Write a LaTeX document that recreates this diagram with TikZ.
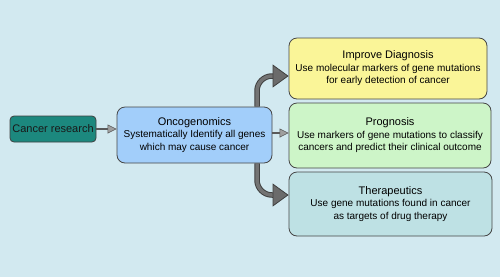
\documentclass[tikz,border=0pt]{standalone}
\usepackage{fontspec}
\setmainfont{Liberation Sans}
\usetikzlibrary{arrows.meta, calc}
\definecolor{bgcol}{RGB}{210,233,240}
\definecolor{tealbox}{RGB}{28,136,126}
\definecolor{bluebox}{RGB}{162,206,250}
\definecolor{yellowbox}{RGB}{250,245,152}
\definecolor{greenbox}{RGB}{205,245,200}
\definecolor{cyanbox}{RGB}{190,225,228}
\definecolor{edgecol}{RGB}{70,70,70}
\newcommand{\boxtitle}[1]{{\fontsize{11}{13}\selectfont #1}}

\begin{document}
\begin{tikzpicture}[x=1pt,y=-1pt]

    \tikzset{box/.style={draw=edgecol, line width=0.8pt, rounded corners=8pt, align=center,
        inner sep=0pt, font=\fontsize{10}{12.5}\selectfont, text=black}}
    \tikzstyle{thinarrow}=[draw=black!65, line width=1.8pt,
        -{Triangle[length=9pt,width=9pt,fill=gray!75,line width=0.6pt]}]
    \tikzstyle{fatarrow}=[draw=black!75, line width=5.5pt, rounded corners=15pt,
        -{Triangle[length=16pt,width=23pt,fill=black!58,line width=0.8pt]}]
    \tikzstyle{fatcore}=[draw=black!55, line width=3.5pt, rounded corners=15pt, shorten >=16pt]

    \fill[bgcol] (0,0) rectangle (500,277);
    \useasboundingbox (0,0) rectangle (500,277);

    \node[box, fill=tealbox, draw=black!75, minimum width=86pt, minimum height=26pt, rounded corners=4pt,
        font=\fontsize{11}{13}\selectfont, text=black!90] (cancer) at (53,129) {Cancer research};
    \node[box, fill=bluebox, minimum width=155pt, minimum height=56pt] (onco) at (194.5,135)
        {\boxtitle{Oncogenomics}\\Systematically Identify all genes\\which may cause cancer};

    \node[box, fill=yellowbox, minimum width=198pt, minimum height=61pt] (diag) at (388,68.5)
        {\boxtitle{Improve Diagnosis}\\Use molecular markers of gene mutations\\for early detection of cancer};
    \node[box, fill=greenbox, minimum width=202pt, minimum height=65pt] (prog) at (390,135.5)
        {\boxtitle{Prognosis}\\Use markers of gene mutations to classify\\cancers and predict their clinical outcome};
    \node[box, fill=cyanbox, minimum width=203pt, minimum height=64pt] (ther) at (390.5,204)
        {\boxtitle{Therapeutics}\\Use gene mutations found in cancer\\as targets of drug therapy};

    \coordinate (bar) at (257,0);

    \draw[thinarrow] (cancer.east) -- (cancer.east -| onco.west);
    \draw[thinarrow] (onco.east |- 0,133) -- (prog.west |- 0,133);

    \draw[fatarrow] (onco.north -| bar) |- ([yshift=-7.5pt]diag.west);
    \draw[fatcore] (onco.north -| bar) |- ([yshift=-7.5pt]diag.west);
    \draw[fatarrow] (onco.south -| bar) |- ([yshift=9pt]ther.west);
    \draw[fatcore] (onco.south -| bar) |- ([yshift=9pt]ther.west);

\end{tikzpicture}
\end{document}
